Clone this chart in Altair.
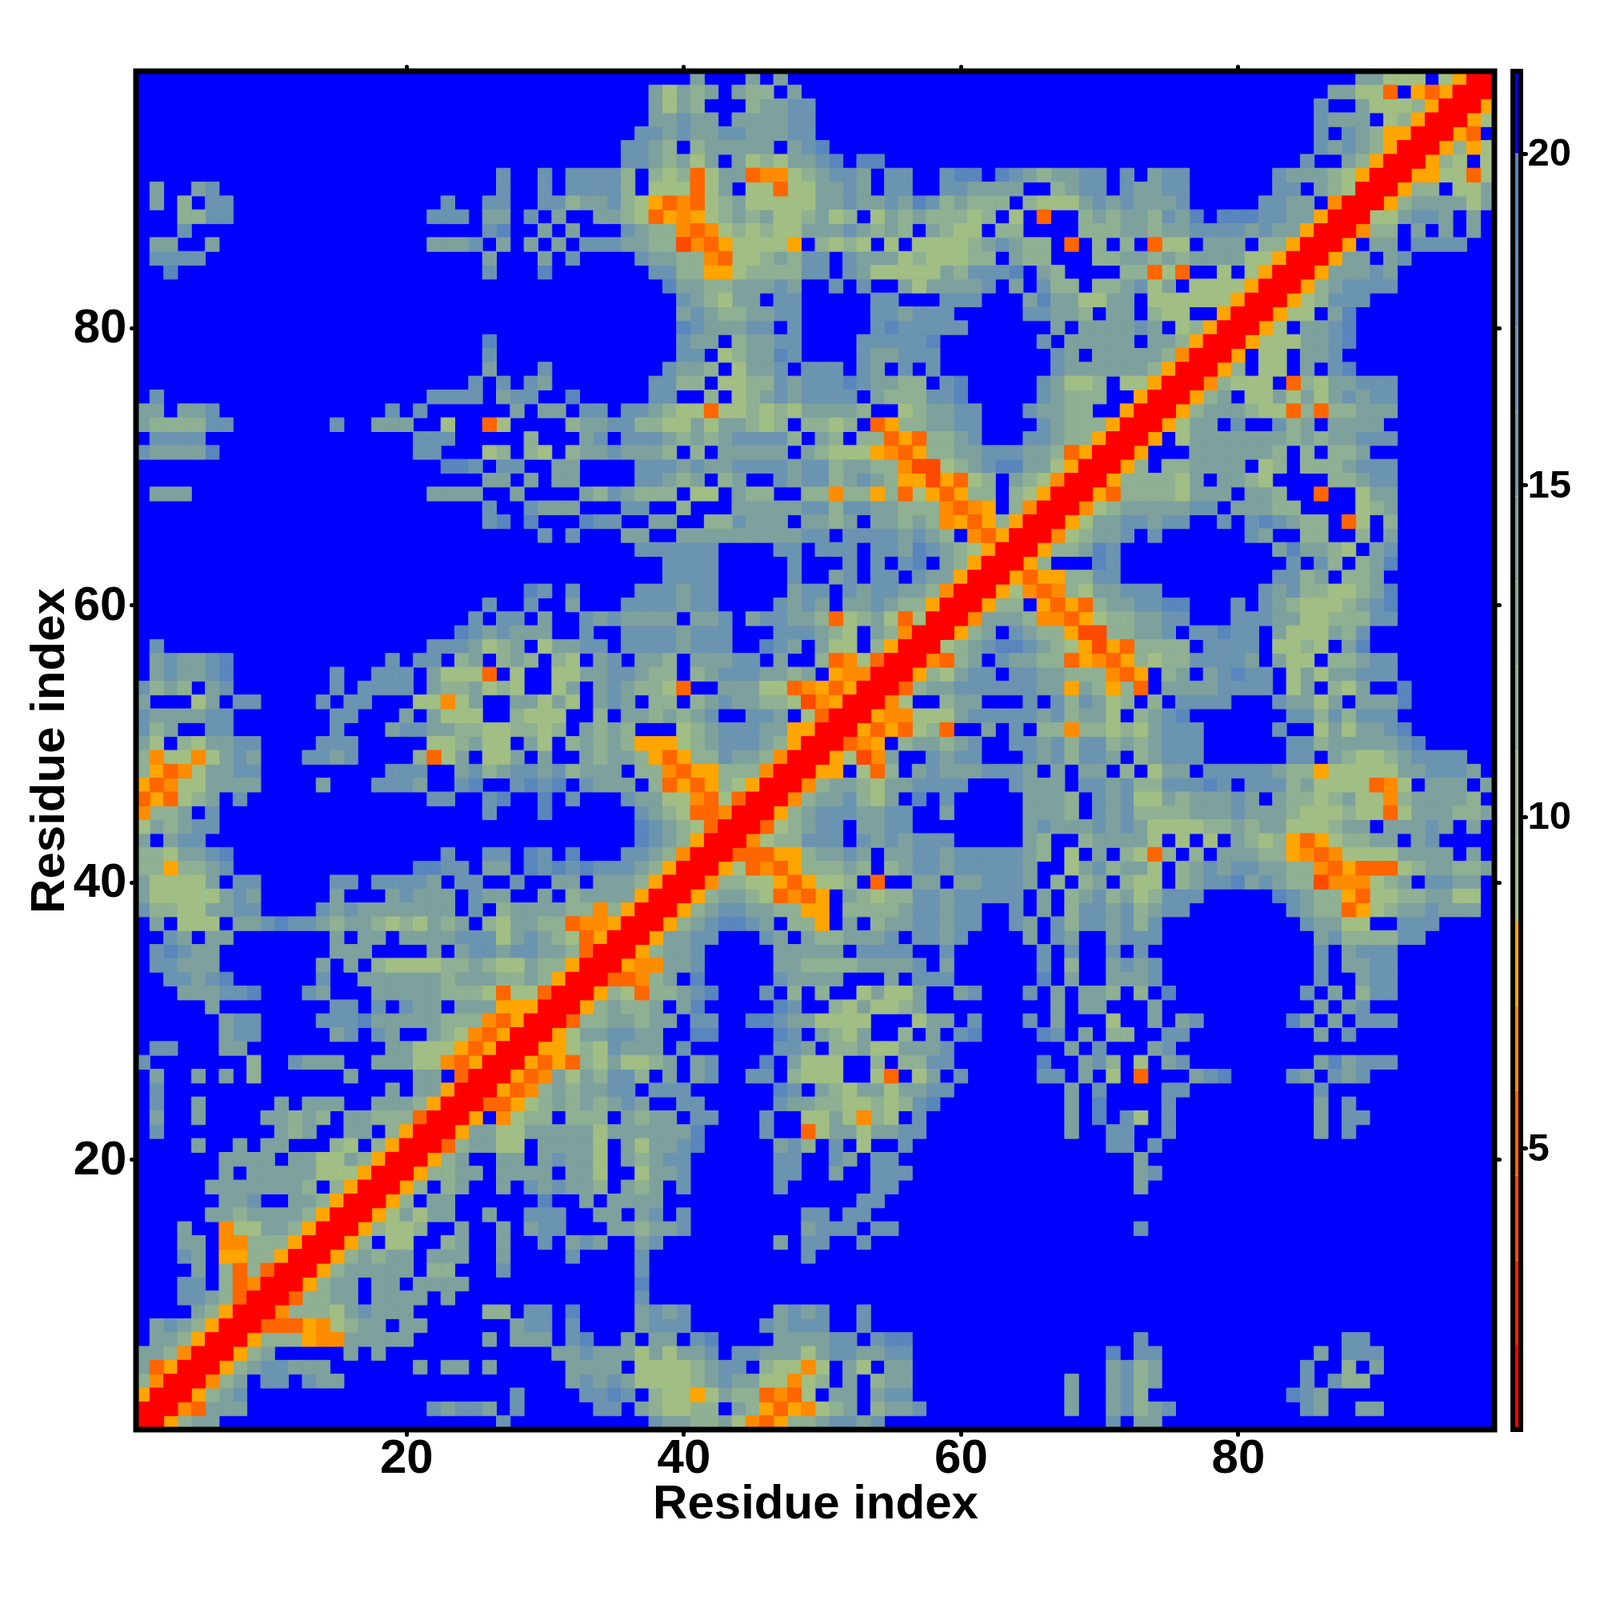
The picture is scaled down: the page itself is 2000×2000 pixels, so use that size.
import re
import altair as alt
import pandas as pd

alt.data_transformers.disable_max_rows()

N = 98
# Matrix is symmetric; rows are read as run-length strings, highest residue first.
# Block F: residues y 98..66, x 1..33
F_ROWS = ["", "", "", "", "", "", "",
 "26.h2.h.hh", ".g2.gh20.h2.h.hh", ".g.t.hh15.h2.hh2.hhtg", "3.tthh14.hhh.gg.h.g.",
 "3.h21.hb2.g.g", ".gg2.g15.gggh.g.g.g.h", ".hhhh20.g3.g.h", "2.b22.h3.b", "", "", "", "",
 "25.b", "25.h", "25.g3.h", "24.h.h.hg", ".h19.hhhh.ghh2.b", "gg.ggh12.h.h6.g.gg.h",
 "gtttthh7.h2.ggg2.s2.ms4.tg", ".hhhh15.hhh5.t3.g", "hggggb14.hh3.st.ts.tg", "22.bbh.hh2.gg",
 "25.gg.g.gg", ".ggg17.gggg2.g4.g", "25.h2.hggg", "25.hb.b3.b"]
# Block E: residues y 98..66, x 34..65
E_ROWS = ["7.g3.g.g", "4.gsgtg.gtt.g", "4.gsgt3.tgghh", "4.gghgg.gggghh", "3.hhghgghhggghh",
 "2.hhgt.tggggg.ghb", "2.hhgtgsg.gstsgghb.bb", "hht.tstmsggmnnstghhg.hh2.hbb.bhg",
 "hht.sssmsg.ssmssgghg.hh2.hhgggg.", "ghtsamnmstgsssssgghgghgbhtgttt.t",
 "ggtsmanastgtgsstgst.sgtgtttst.s.", "2.hgttnmnststssggghgtgt.gtss.tt.",
 "hhggttlnmassssa.tsts.s.sssstghgt", "3.hggttnmsstgthh.hgggstssstt.gt",
 "4.hhttaastttthh.hgsssssgthhhb.", "5.bggttggghg2.h.h2.gsggggh.g.",
 "6.hgtsgg.hh5.hh3.hhh3.g", "6.ghgttgghh5.hhghhh5.h", "6.bhggghh.h5.hbhhhhh",
 "6.hgg.tgghh4.hhhhhb", "6.hh.stggbh4.hgghhh", "5.hggt.sggh.hhh.hg.h.h",
 "4.hhtt.sstthghhhbhggtt.hb", "4.hh2.t.stghghhhh.gttthhb", "h.hhgtssmsststsggggt2.stgghh3.h",
 "ghhttssgsggtst.ttst.mattgghh", "h.hhhgtgtghhhht.gt.ttmamttgh3.h",
 "ghgggt.t.ggggg.gtsssanmattgghhhg", "3.hhhghgghhhhghhtggttnllstghbbg",
 "3.hhgtg.tg2.hghhtghgtaalamst.gt", "thgttt.ss.gtt2.ttnttatmsamatt.ts",
 "2.hh2.t3.ggggghhthhggtttnmna.tn", "hh2.gg2.tthggg.ggtg.ggtgtnamataR"]
# Block C: residues y 98..66, x 66..y
C_ROWS = ["23.ggsss.saRR", "21.ggssm.amaRR", "20.h2.gssstaRR", "20.hggg.staRR", "20.h.hgtaaRR",
 "20.hghgtaRR", "19.h2.gtaRR", "tgghh.h.ghh6.hgggtsaRR", ".tghh.hgghh6.hh.gtsRR",
 "sssghghgggh5.hhgg.nRR", "m2.tgtggthgb.bbbhhggaRR", "3.tttggtgghhhhghggaRR",
 "t.m.t.t.mss.ggg.ttaRR", "t3.ttggtgtggggssaRR", "gt4.ttmsm2.s.saRR", "htt.ttghsg.ssssaRR",
 "bggssgg.ssssssaRR", "hggt.gg.tss2.aRR", ".g.gggghg.staRR", "h.ggggg.ggtaRR", ".hg.gggggtnRR",
 ".hggggggtaRR", "hgsst.ssaRR", "hgttt2.aRR", "ggtt2.aRR", "hgtttaRR", "hgttaRR", "gtmaRR",
 "gsaRR", "snRR", "aRR", "RR", "R"]
# Block D: residues y 65..33, x 1..33
D_ROWS = ["29.h.h", "", "", "", "28.bh.h", "25.h2.h2.g", "24.h.hh.g2.h", "23.bhghggg2.h",
 ".h19.hhhgstg.sggh", ".ghgghb11.h.hh.tg.tgt.ts.", ".ghgghb7.h2.hhh.gsssm.s2.ssg",
 "htgt.gh7.h.hhhh.gttgsts2.sg", "g3.sg.hh4.h.hh3.ssnsg2.ggsgs.", "hgggghh7.hh3.g.gsss2.tsss",
 "htg2.hh7.h3.ghhggttssttst.g", "gs.tsgghh4.hhh5.sstgss.gs.tg", "tnssnsghg3.hhgh4.tmsg.ssg.g2.g",
 "tamnsgghh9.hhh2.ghtghhghtg", "amnssgggg4.g3.hhhg2.hb2.hbhb.h", "mamstg.h13.hh2.hb2.b.h",
 "nttg.h19.h3.b", "sgtghh", "g.ghh", "ttsgghb15.h2.hh.bh.b", "ttattgh13.bbhh.gg.bhbhb",
 "gssssg.hh5.hh.hhhhg.hh2.h2.gg.", "gsssssghg5.g3.ghggg.hgg2.g.tg",
 "httssgghh4.hghggggggg.h.tggggtt", ".g.sss.gghbhhgtggtstsgtg.tsggttmn",
 "2.hg.gg7.g.gg.gggghhhsghgtsm", ".hbhgg8.ggg4.g.ghhghhggtm", ".hhggg7.g.g.tssssttgtssgttaR",
 "2.hhghb6.h2.ggggggtgggttgtaRR"]
# Block B: residues y 65..34, x 34..y
B_ROWS = ["2.gg2.ggggggggghh.hhhhghgt.nmaRR", "3.hhhhhh4.hh.hhh.hhgbhgtsaRR",
 "5.hhhh5.h3.h.h.hb.gtaRR", "5.hhhh5.h2.gh.hh.hggaRR", "3.hhhghh5.ghh.hghhggtnRR",
 "2.hhhhghh4.hghg.gghgttaRR", "ghgggg.ggh.ghhggtmstgsmsRR", "2.hhhhghhh3.hhhgts.gtnRR",
 "h.hhhhghhh2.bhg.gss.taRR", "gh.ggt.ggghh.g2.tmnsmRR", "ghhgtt.tghhhggtg.annRR",
 "ghgttsm2.gggssmnamaRR", "ghg.tt.tghggttslnaRR", "t.ggtgtgh2.hhg.smRR", "tgt3.stghhhggaaRR",
 "tgtaaastghhhgtaRR", "tggtamatthggtnRR", "gg.ttnmaatttnRR", "ggg.tmamatsaRR", "2.hggssnmsmRR",
 "3.hgtsmmnRR", "3.bhgtsmRR", "3.bhgtaRR", "2.hhgtnRR", "hhhgtaRR", "gggtaRR", "gggaRR", "ntaRR",
 "naRR", "aRR", "RR", "R"]
# Block A: residues y 32..1, x 1..y
A_ROWS = ["3.ggghhb3.hg3.gggggtttsmssmRR", "5.g8.hh.h.hgg.gggaaaRR", "6.ghh4.hhhbgggggtttnmaRR",
 "6.ghh5.gh.hg2.gtsnmaRR", ".hh3.gg10.ggsssamaRR", "h7.t2.hggg2.gggssnmaRR", ".g2.g.g.t6.g4.gg.mRR",
 ".h16.g.ggaRR", ".h2.g5.g.ggg2.gggtaRR", ".g2.g4.ggtgt.ggtttmRR", ".h8.gtg2.gg.taRR",
 "4.g2.g.gg3.ts.taRR", "6.gggg.ggssgtaRR", "6.g.gggggsssaRR", "5.gggggggt.taRR", "6.ggh2.ggtaRR",
 "5.ggtggggtaRR", "3.g2.nssggtaRR", "3.gg.nntttaRR", "3.hg.aattaRR", "4.g.tmtmRR", "3.hh.tmnRR",
 "3.hhgtmRR", "4.gtaRR", ".ghgtaRR", ".ggtaRR", "ggtnRR", "gmaRR", "tnRR", "aRR", "RR", "R"]

# distance for each colour class
CLASS_VALUE = {"R": 1.4, "l": 3.9, "m": 5.2, "n": 6.5, "a": 7.8, "s": 9.1, "t": 11.6,
               "g": 14.2, "h": 16.7, "b": 19.3, ".": 20.6}

BREAKS = [2.04, 3.31, 4.59, 5.87, 7.15, 8.43, 9.71, 10.99, 12.27, 13.55, 14.83, 16.11, 17.39, 18.67, 20.0]
PALETTE = ["#ff0000", "#f62400", "#ff4a00", "#ff6600", "#ff8c00", "#ffa500", "#a1be84", "#9ab98a",
           "#8fb092", "#86a99a", "#7ea19e", "#7399a9", "#6b94b0", "#628cb7", "#5986bc", "#0000ff"]
BAR_EDGES = [0.76] + BREAKS + [21.24]


def runs(text):
    return "".join(ch * int(n or 1) for n, ch in re.findall(r"(\d*)(\D)", text))


cells = {}


def put(row_list, top, first, last=None):
    for n, text in enumerate(row_list):
        y = top - n
        end = y if last is None else last
        line = runs(text).ljust(end - first + 1, ".")
        for k in range(first, end + 1):
            v = CLASS_VALUE[line[k - first]]
            cells[(k, y)] = v
            cells[(y, k)] = v


put(F_ROWS, 98, 1, 33)
put(E_ROWS, 98, 34, 65)
put(C_ROWS, 98, 66)
put(D_ROWS, 65, 1, 33)
put(B_ROWS, 65, 34)
put(A_ROWS, 32, 1)

df = pd.DataFrame(
    [{"x0": x - 0.5, "x1": x + 0.5, "y0": y - 0.5, "y1": y + 0.5, "d": cells.get((x, y), 20.6)}
     for x in range(1, N + 1) for y in range(1, N + 1)]
).sort_values("d", ascending=False)

SIZE = 1698
FONT = "Liberation Sans"
dom = [0.5, N + 0.5]
ticks = [20, 40, 60, 80]
cscale = alt.Scale(type="threshold", domain=BREAKS, range=PALETTE)


def ax(orient, labels=True, title=None, label_pad=2, title_pad=0):
    opts = dict(orient=orient, values=ticks, labels=labels, grid=False, domain=False, tickColor="black",
                tickWidth=5, tickSize=6, tickCap="round", labelFont=FONT, labelFontWeight="bold",
                labelFontSize=60, labelColor="black", labelPadding=label_pad, labelFlush=False,
                labelOverlap=False, format="d")
    if title:
        opts.update(title=title, titleFont=FONT, titleFontWeight="bold", titleFontSize=60,
                    titleColor="black", titlePadding=title_pad)
    else:
        opts.update(title=None)
    return alt.Axis(**opts)


backdrop = alt.Chart(pd.DataFrame({"f": [0]})).mark_rect(fill="#0000ff").encode(
    x=alt.value(0), x2=alt.value(SIZE), y=alt.value(0), y2=alt.value(SIZE)
)
heat = alt.Chart(df).mark_rect(strokeWidth=1).encode(
    x=alt.X("x0:Q", scale=alt.Scale(domain=dom, nice=False, zero=False),
            axis=ax("bottom", True, "Residue index", label_pad=0, title_pad=-2)),
    x2="x1:Q",
    y=alt.Y("y0:Q", scale=alt.Scale(domain=dom, nice=False, zero=False),
            axis=ax("left", True, "Residue index", label_pad=6, title_pad=-1)),
    y2="y1:Q",
    color=alt.Color("d:Q", scale=cscale, legend=None),
    stroke=alt.Color("d:Q", scale=cscale, legend=None),
    order=alt.Order("d:Q", sort="descending"),
)
other = alt.Chart(pd.DataFrame({"x": [1], "y": [1]})).mark_point(opacity=0).encode(
    x=alt.X("x:Q", scale=alt.Scale(domain=dom, nice=False, zero=False), axis=ax("top", False)),
    y=alt.Y("y:Q", scale=alt.Scale(domain=dom, nice=False, zero=False), axis=ax("right", False)),
)
frame = alt.Chart(pd.DataFrame({"f": [0]})).mark_rect(fillOpacity=0, stroke="black", strokeWidth=7).encode(
    x=alt.value(0), x2=alt.value(SIZE), y=alt.value(0), y2=alt.value(SIZE)
)
main = alt.layer(backdrop, heat, other, frame).resolve_axis(x="independent", y="independent").resolve_scale(
    x="independent", y="independent").properties(width=SIZE, height=SIZE)

bar_df = pd.DataFrame({"lo": BAR_EDGES[:-1], "hi": BAR_EDGES[1:], "c": PALETTE})
bar = alt.Chart(bar_df).mark_rect().encode(
    x=alt.value(0), x2=alt.value(10),
    y=alt.Y("lo:Q", scale=alt.Scale(domain=[0.76, 21.24], nice=False, zero=False),
            axis=alt.Axis(orient="right", values=[5, 10, 15, 20], title=None, grid=False, domain=False,
                          tickColor="black", tickWidth=5, tickSize=6, tickCap="round", labelFont=FONT,
                          labelFontWeight="bold", labelFontSize=49, labelColor="black", labelPadding=2,
                          labelOverlap=False, format="d")),
    y2="hi:Q",
    color=alt.Color("c:N", scale=None, legend=None),
)
bar_frame = alt.Chart(pd.DataFrame({"f": [0]})).mark_rect(fillOpacity=0, stroke="black", strokeWidth=6).encode(
    x=alt.value(0), x2=alt.value(10), y=alt.value(0), y2=alt.value(SIZE)
)
colorbar = alt.layer(bar, bar_frame).properties(width=10, height=SIZE)

chart = alt.hconcat(main, colorbar, spacing=10).properties(
    padding={"left": 22, "top": 72, "right": 5, "bottom": 5}
).configure_view(stroke=None).configure(background="white")

chart.save("out.html", embed_options={"renderer": "svg", "actions": False})
